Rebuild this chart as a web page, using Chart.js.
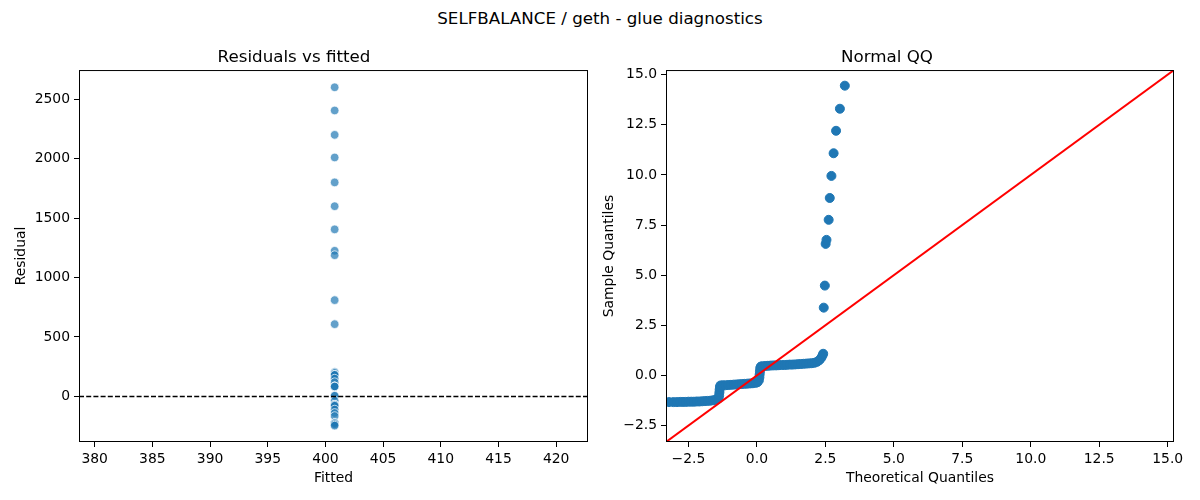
<!DOCTYPE html>
<html>
<head>
<meta charset="utf-8">
<script src="https://cdn.jsdelivr.net/npm/chart.js@4.4.1/dist/chart.umd.min.js"></script>
<style>
  body { margin: 0; background: #fff; width: 1200px; height: 500px; overflow: hidden; font-family: "DejaVu Sans", sans-serif; }
  #suptitle { position: absolute; left: 0; top: 8px; width: 1200px; text-align: center; font-size: 16.7px; line-height: 20px; color: #000; }
  .panel { position: absolute; top: 0; width: 600px; height: 500px; }
</style>
</head>
<body>
<div id="suptitle">SELFBALANCE / geth - glue diagnostics</div>
<div class="panel" style="left:0"><canvas id="resid"></canvas></div>
<div class="panel" style="left:600px"><canvas id="qq"></canvas></div>
<script>
// residuals vs fitted (every fitted value is the same)
const fittedValue = 400.8;
const residuals = [2600, 2405, 2200, 2010, 1800, 1600, 1405, 1225, 1188, 810, 608,
  205, 197, 182, 182, 182, 150, 120, 84, 84, 84, 84, 6, 6, -36, -70, -70, -70, -78,
  -110, -139, -165, -224, -224, -224, -235, -245];
const fittedTicks = [380, 385, 390, 395, 400, 405, 410, 415, 420];
const residualTicks = [0, 500, 1000, 1500, 2000, 2500];
const fittedRange = [378.64, 422.76];
const residualRange = [-383, 2745];

// normal QQ
const qqTheoretical = [
  -3.21, -3.05, -2.92, -2.8, -2.7, -2.6, -2.5, -2.4, -2.3, -2.2, -2.1, -2.0, -1.9, -1.8,
  -1.7, -1.6, -1.52, -1.45, -1.4, -1.38, -1.37, -1.36, -1.35,
  -1.33, -1.25, -1.15, -1.05, -0.95, -0.85, -0.75, -0.65, -0.55, -0.45, -0.35, -0.25,
  -0.15, -0.05, 0.02, 0.07, 0.09, 0.1, 0.11, 0.12,
  0.14, 0.2, 0.3, 0.4, 0.5, 0.6, 0.7, 0.8, 0.9, 1.0, 1.1, 1.2, 1.3, 1.4, 1.5, 1.6, 1.7,
  1.8, 1.9, 2.0, 2.1, 2.2, 2.28, 2.34, 2.39, 2.42,
  2.44, 2.48, 2.51, 2.54, 2.62, 2.66, 2.72, 2.8, 2.89, 3.03, 3.21
];
const qqSample = [
  -1.33, -1.33, -1.33, -1.32, -1.32, -1.32, -1.31, -1.31, -1.31, -1.3, -1.3, -1.29, -1.28, -1.27,
  -1.26, -1.24, -1.22, -1.19, -1.15, -1.0, -0.85, -0.7, -0.57,
  -0.5, -0.49, -0.49, -0.48, -0.47, -0.46, -0.45, -0.44, -0.43, -0.42, -0.41, -0.4,
  -0.39, -0.37, -0.34, -0.25, -0.1, 0.05, 0.2, 0.35,
  0.44, 0.46, 0.47, 0.48, 0.49, 0.5, 0.5, 0.51, 0.52, 0.52, 0.53, 0.54, 0.54, 0.55, 0.56, 0.57, 0.58,
  0.59, 0.6, 0.61, 0.63, 0.68, 0.76, 0.86, 0.98, 1.08,
  3.38, 4.48, 6.56, 6.76, 7.76, 8.85, 9.95, 11.08, 12.2, 13.3, 14.45
];
const qqTicks = [-2.5, 0, 2.5, 5, 7.5, 10, 12.5, 15];
const qqRange = [-3.32, 15.23];

Chart.defaults.font.family = "'DejaVu Sans', sans-serif";
Chart.defaults.color = "#000";

// matplotlib style frame round the plot area
const frame = {
  id: "frame",
  afterDraw(chart) {
    const { ctx, chartArea: a } = chart;
    ctx.save();
    ctx.strokeStyle = "#000";
    ctx.lineWidth = 1;
    ctx.strokeRect(a.left + 0.5, a.top + 0.5, a.right - a.left - 1, a.bottom - a.top - 1);
    ctx.restore();
  },
};

function axis(ticks, range, title, titlePad, fmt, size) {
  return {
    type: "linear",
    min: range[0],
    max: range[1],
    afterBuildTicks: (s) => { s.ticks = ticks.map((v) => ({ value: v })); },
    afterFit: (s) => {
      if (s.isHorizontal()) s.height = size;
      else s.width = size;
    },
    ticks: { font: { size: 13.9 }, padding: 4, callback: fmt, maxRotation: 0, autoSkip: false },
    grid: { drawOnChartArea: false, drawTicks: true, tickLength: 5, color: "#000", lineWidth: 1 },
    border: { display: false },
    title: { display: true, text: title, font: { size: 13.9 }, padding: titlePad },
  };
}

function fmtOne(v) {
  return (v < 0 ? "\u2212" : "") + Math.abs(v).toFixed(1);
}

function plotTitle(text) {
  return {
    display: true,
    text: text,
    color: "#000",
    font: { size: 16.7, weight: "normal" },
    padding: { top: 12, bottom: 2 },
  };
}

// LEFT: residuals vs fitted
new Chart(document.getElementById("resid"), {
  type: "scatter",
  data: {
    datasets: [
      {
        data: [{ x: fittedRange[0], y: 0 }, { x: fittedRange[1], y: 0 }],
        showLine: true,
        borderColor: "#000",
        borderWidth: 1.4,
        borderDash: [5, 2.2],
        pointRadius: 0,
      },
      {
        data: residuals.map((r) => ({ x: fittedValue, y: r })),
        backgroundColor: "rgba(31,119,180,0.7)",
        borderColor: "rgba(255,255,255,0.7)",
        borderWidth: 1,
        pointRadius: 4.3,
      },
    ],
  },
  options: {
    responsive: true,
    maintainAspectRatio: false,
    animation: false,
    events: [],
    layout: { padding: { left: 0, right: 12, top: 36, bottom: 0 } },
    plugins: { legend: { display: false }, tooltip: { enabled: false }, title: plotTitle("Residuals vs fitted") },
    scales: {
      x: axis(fittedTicks, fittedRange, "Fitted", { top: 0, bottom: 13 }, (v) => String(v), 58),
      y: axis(residualTicks, residualRange, "Residual", { top: 13.5, bottom: 0 }, (v) => String(v), 79),
    },
  },
  plugins: [frame],
});

// RIGHT: normal QQ with 45 degree line
new Chart(document.getElementById("qq"), {
  type: "scatter",
  data: {
    datasets: [
      {
        data: [{ x: qqRange[0], y: qqRange[0] }, { x: qqRange[1], y: qqRange[1] }],
        showLine: true,
        borderColor: "#ff0000",
        borderWidth: 2,
        pointRadius: 0,
      },
      {
        data: qqTheoretical.map((t, i) => ({ x: t, y: qqSample[i] })),
        backgroundColor: "#1f77b4",
        borderColor: "#1f77b4",
        borderWidth: 1,
        pointRadius: 4.5,
      },
    ],
  },
  options: {
    responsive: true,
    maintainAspectRatio: false,
    animation: false,
    events: [],
    layout: { padding: { left: 0, right: 26, top: 36, bottom: 0 } },
    plugins: { legend: { display: false }, tooltip: { enabled: false }, title: plotTitle("Normal QQ") },
    scales: {
      x: axis(qqTicks, qqRange, "Theoretical Quantiles", { top: 0, bottom: 13 }, fmtOne, 58),
      y: axis(qqTicks, qqRange, "Sample Quantiles", { top: 1.5, bottom: 0 }, fmtOne, 66),
    },
  },
  plugins: [frame],
});
</script>
</body>
</html>
